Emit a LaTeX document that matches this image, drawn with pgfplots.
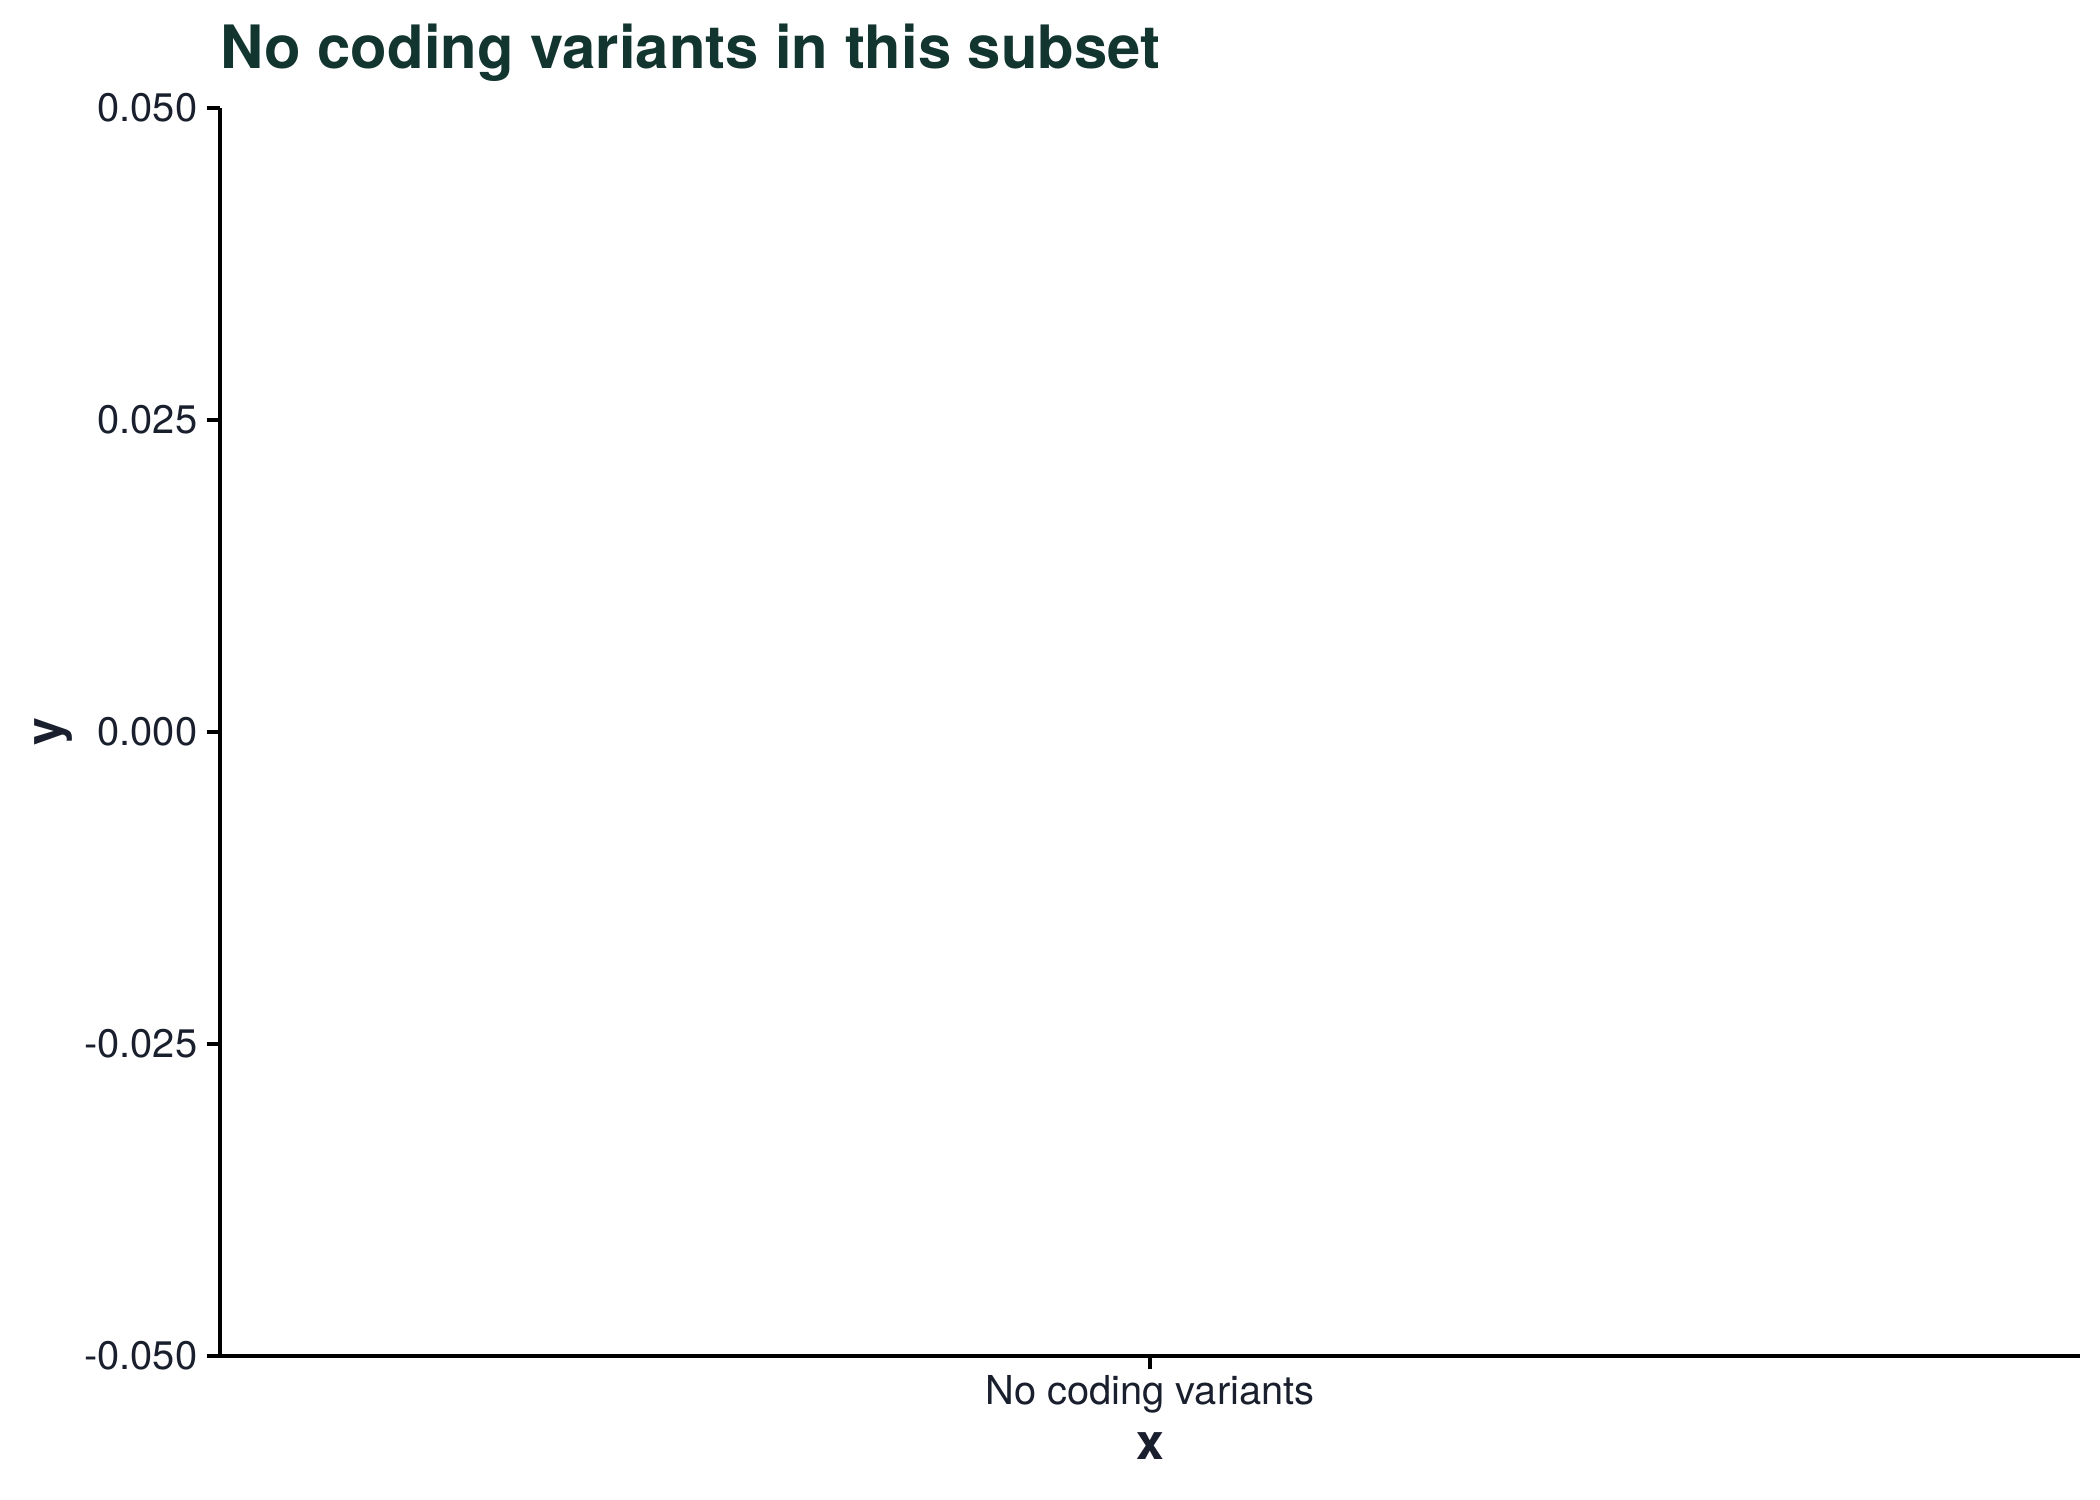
\documentclass[border=0pt]{standalone}
\usepackage{pgfplots}
\pgfplotsset{compat=1.18}
\usepackage{fontspec}
\setmainfont{TeX Gyre Heros}
\definecolor{titlegreen}{HTML}{12352F}
\definecolor{inkdark}{HTML}{1A1F2E}

\begin{document}
\begin{tikzpicture}
\path[use as bounding box] (0,0) rectangle (505.89pt,361.35pt);
\begin{axis}[
  at={(53pt,34.7pt)}, anchor=south west,
  width=448pt, height=300.6pt, scale only axis,
  axis lines=left, axis line style={-, line width=1pt, black},
  tick align=outside, major tick length=3.2pt,
  tick style={line width=1pt, black},
  scaled y ticks=false,
  xmin=0.4, xmax=1.6, ymin=-0.05, ymax=0.05,
  xtick={1}, xticklabels={No coding variants},
  ytick={-0.05,-0.025,0,0.025,0.05},
  yticklabels={-0.050,-0.025,0.000,0.025,0.050},
  ticklabel style={font=\fontsize{9.6}{11}\selectfont, text=inkdark, inner sep=0pt},
  xticklabel style={anchor=base, yshift=-8.5pt},
  yticklabel style={anchor=east, xshift=-2.1pt},
  title={No coding variants in this subset},
  title style={at={(axis description cs:0,1)}, anchor=base west, yshift=3.6pt,
    inner sep=0pt, font=\fontsize{14.4}{17}\selectfont\bfseries, text=titlegreen},
  xlabel={x}, ylabel={y},
  every axis x label/.style={at={(axis description cs:0.5,0)}, anchor=base,
    yshift=-25pt, inner sep=0pt, font=\fontsize{12}{14}\selectfont\bfseries, text=inkdark},
  every axis y label/.style={at={(axis description cs:-0.085,0.5)}, rotate=90, anchor=base,
    inner sep=0pt, font=\fontsize{12}{14}\selectfont\bfseries, text=inkdark},
]
\end{axis}
\end{tikzpicture}
\end{document}
